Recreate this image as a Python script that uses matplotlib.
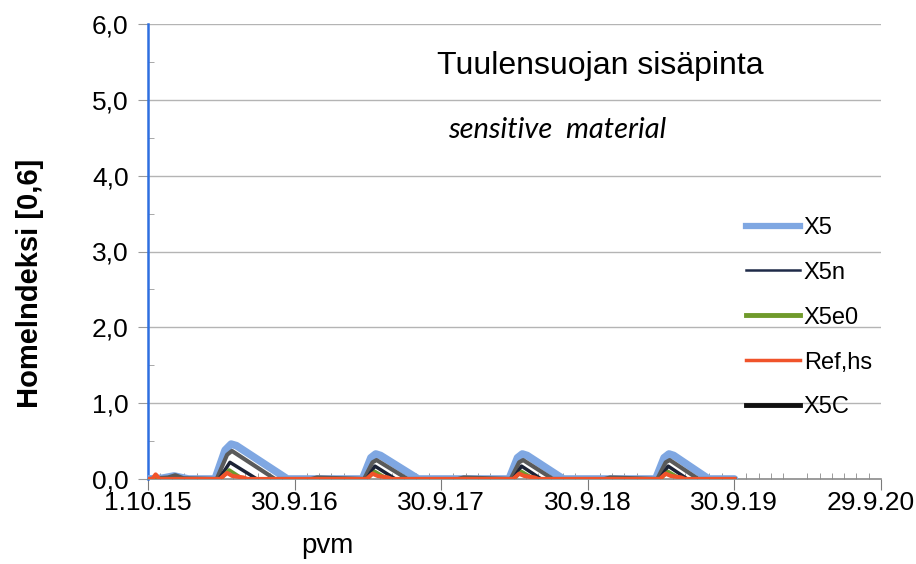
import matplotlib
matplotlib.use("Agg")
import matplotlib.pyplot as plt
import matplotlib.dates as mdates
import matplotlib.transforms as mtransforms
from matplotlib.lines import Line2D
import numpy as np
import datetime as dt

# ---------------- data ----------------
tick_dates = ["2015-10-01", "2016-09-30", "2017-09-30", "2018-09-30", "2019-09-30", "2020-09-29"]
tick_labels = ["1.10.15", "30.9.16", "30.9.17", "30.9.18", "30.9.19", "29.9.20"]
y_ticks = [0, 1, 2, 3, 4, 5, 6]
y_labels = ["0,0", "1,0", "2,0", "3,0", "4,0", "5,0", "6,0"]

x5_dates = ["2015-10-01", "2015-11-05", "2015-12-05", "2015-12-22", "2016-01-10", "2016-03-16",
            "2016-04-10", "2016-04-25", "2016-05-08", "2016-09-12", "2017-03-18", "2017-04-08",
            "2017-04-20", "2017-05-02", "2017-08-04", "2018-03-18", "2018-04-08", "2018-04-20",
            "2018-05-02", "2018-07-31", "2019-03-18", "2019-04-08", "2019-04-20", "2019-05-02",
            "2019-07-28", "2019-09-30"]
x5_vals = [0.0, 0.01, 0.04, 0.02, 0.0, 0.0,
           0.38, 0.46, 0.44, 0.0, 0.0, 0.28,
           0.33, 0.31, 0.0, 0.0, 0.28, 0.33,
           0.31, 0.0, 0.0, 0.28, 0.33, 0.31,
           0.0, 0.0]

x5c_dates = ["2015-10-01", "2015-11-20", "2015-12-08", "2015-12-28", "2016-03-20", "2016-04-15",
             "2016-04-27", "2016-08-12", "2016-11-10", "2016-11-25", "2017-03-22", "2017-04-12",
             "2017-04-22", "2017-07-08", "2017-11-10", "2017-11-25", "2018-03-22", "2018-04-12",
             "2018-04-22", "2018-07-05", "2018-11-10", "2018-11-25", "2019-03-22", "2019-04-12",
             "2019-04-22", "2019-07-02", "2019-09-30"]
x5c_vals = [0.0, 0.02, 0.05, 0.01, 0.0, 0.32,
            0.37, 0.0, 0.0, 0.02, 0.0, 0.22,
            0.25, 0.0, 0.0, 0.02, 0.0, 0.22,
            0.25, 0.0, 0.0, 0.02, 0.0, 0.22,
            0.25, 0.0, 0.0]

x5n_dates = ["2015-10-01", "2016-03-26", "2016-04-22", "2016-06-28", "2017-03-28", "2017-04-18",
             "2017-06-08", "2018-03-28", "2018-04-18", "2018-06-06", "2019-03-28", "2019-04-18",
             "2019-06-05", "2019-09-30"]
x5n_vals = [0.0, 0.0, 0.22, 0.0, 0.0, 0.17,
            0.0, 0.0, 0.17, 0.0, 0.0, 0.17,
            0.0, 0.0]

x5e0_dates = ["2015-10-01", "2016-03-30", "2016-04-20", "2016-05-25", "2017-03-30", "2017-04-18",
              "2017-05-20", "2018-03-30", "2018-04-18", "2018-05-20", "2019-03-30", "2019-04-18",
              "2019-05-20", "2019-09-30"]
x5e0_vals = [0.0, 0.0, 0.12, 0.0, 0.0, 0.10,
             0.0, 0.0, 0.10, 0.0, 0.0, 0.10,
             0.0, 0.0]

ref_dates = ["2015-10-01", "2015-10-12", "2015-10-20", "2015-10-30", "2016-03-28", "2016-04-15",
             "2016-04-28", "2016-05-25", "2016-06-05", "2017-03-28", "2017-04-12", "2017-04-25",
             "2017-05-20", "2017-05-30", "2018-03-28", "2018-04-12", "2018-04-25", "2018-05-20",
             "2018-05-30", "2019-03-28", "2019-04-12", "2019-04-25", "2019-05-20", "2019-05-30",
             "2019-09-30"]
ref_vals = [0.0, 0.0, 0.06, 0.0, 0.0, 0.08,
            0.04, 0.02, 0.0, 0.0, 0.07, 0.04,
            0.02, 0.0, 0.0, 0.07, 0.04, 0.02,
            0.0, 0.0, 0.07, 0.04, 0.02, 0.0,
            0.0]

series_names = ["X5", "X5n", "X5e0", "Ref,hs", "X5C"]

# ---------------- plot ----------------
plt.rcParams["font.family"] = ["Liberation Sans", "DejaVu Sans"]


def d(lst):
    return [dt.datetime.strptime(s, "%Y-%m-%d") for s in lst]


W, H = 916, 564
fig = plt.figure(figsize=(W / 100, H / 100), dpi=100)
ax = fig.add_axes([148 / W, 1 - 479 / H, (881 - 148) / W, (479 - 24) / H])

ax.set_ylim(0, 6)
xt = mdates.date2num(d(tick_dates))
ax.set_xlim(xt[0], xt[-1])

# grid
for yv in y_ticks[1:]:
    ax.axhline(yv, color="#b4b4b4", lw=1.0, zorder=0.5)

c_x5 = "#7fa7e2"
c_x5c = "#5a5a5a"
c_x5n = "#1c2236"
c_x5e0 = "#6f9a2b"
c_ref = "#f0532a"

ax.plot(d(x5_dates), x5_vals, color=c_x5, lw=5.5, solid_capstyle="round", solid_joinstyle="round", zorder=3)
ax.plot(d(x5c_dates), x5c_vals, color=c_x5c, lw=3, solid_joinstyle="round", zorder=4)
ax.plot(d(x5n_dates), x5n_vals, color=c_x5n, lw=2.5, solid_joinstyle="round", zorder=5)
ax.plot(d(x5e0_dates), x5e0_vals, color=c_x5e0, lw=2.5, solid_joinstyle="round", zorder=6)
ax.plot(d(ref_dates), ref_vals, color=c_ref, lw=3, solid_joinstyle="round", zorder=7)

# axes styling
for s in ["top", "right"]:
    ax.spines[s].set_visible(False)
ax.spines["left"].set_color("#2e6fe0")
ax.spines["left"].set_linewidth(1.8)
ax.spines["bottom"].set_color("#8a8a8a")
ax.spines["bottom"].set_linewidth(1.2)

ax.set_yticks(y_ticks)
ax.set_yticklabels(y_labels, fontsize=19)
ax.set_yticks(np.arange(0.5, 6, 1.0), minor=True)
ax.tick_params(axis="y", which="major", length=7, color="#9a9a9a", direction="out", pad=7)
ax.tick_params(axis="y", which="minor", length=4, color="#9a9a9a", direction="in")

ax.set_xticks(xt)
ax.set_xticklabels(tick_labels, fontsize=19)
ax.xaxis.set_minor_locator(mdates.MonthLocator(bymonthday=30))
ax.tick_params(axis="x", which="major", length=8, color="#7a7a7a", direction="out", pad=1)
ax.tick_params(axis="x", which="minor", length=4, color="#8a8a8a", direction="in")
last = ax.get_xticklabels()[-1]
last.set_transform(last.get_transform() + mtransforms.ScaledTranslation(-10 / 100, 0, fig.dpi_scale_trans))

fig.text(30 / W, 1 - 283 / H, "Homelndeksi [0,6]", fontsize=21, fontweight="bold",
         rotation=90, ha="center", va="center")
fig.text(327 / W, 1 - 546 / H, "pvm", fontsize=20, ha="center", va="center")

fig.text(600 / W, 1 - 66 / H, "Tuulensuojan sisäpinta", fontsize=23, ha="center", va="center")
fig.text(557 / W, 1 - 130 / H, "sensitive  material", fontsize=21, style="italic",
         ha="center", va="center", family=["Lato", "DejaVu Sans"])

# legend (proxy handles)
handles = [Line2D([], [], color=c_x5, lw=4.5),
           Line2D([], [], color="#1e2a48", lw=1.8),
           Line2D([], [], color=c_x5e0, lw=3.5),
           Line2D([], [], color=c_ref, lw=2.5),
           Line2D([], [], color="#111111", lw=3.5)]
leg = ax.legend(handles, series_names, loc="upper left", bbox_to_anchor=(0.803, 0.597),
                frameon=False, fontsize=17, handlelength=2.3, handletextpad=0.15,
                labelspacing=0.97, borderaxespad=0)

fig.savefig("out.png", dpi=100)
